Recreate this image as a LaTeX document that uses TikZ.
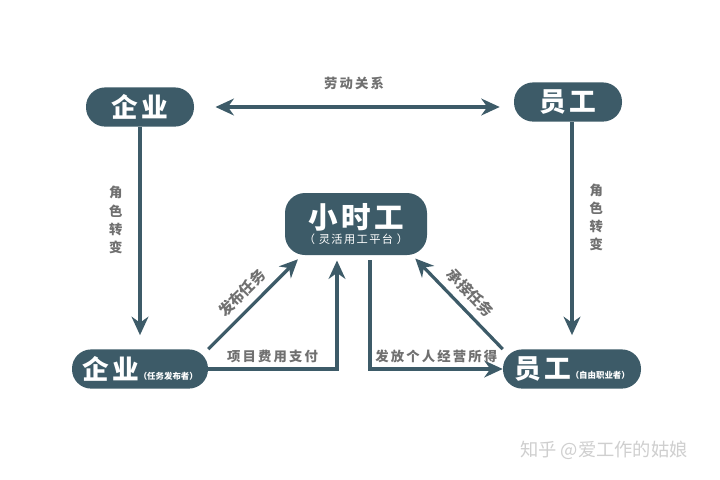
\documentclass[tikz,border=0pt]{standalone}
\usepackage{fontspec}
\setmainfont{Noto Sans CJK SC}
\newfontfamily\cjkwide{Noto Sans CJK SC}[LetterSpace=12]
\newfontfamily\cjklabel{Noto Sans CJK SC}[LetterSpace=16]
\usetikzlibrary{calc,positioning,arrows.meta}
\definecolor{figTeal}{HTML}{3D5B68}
\definecolor{figGray}{HTML}{707070}
\definecolor{figMark}{HTML}{CFCFCF}

\begin{document}
\begin{tikzpicture}[
  >={Stealth[length=4.6mm,width=4.2mm]},
  every node/.style={font=\small},
  rolebox/.style={rectangle, rounded corners=4.8mm, fill=figTeal, text=white,
    inner sep=2pt, minimum height=9.8mm, minimum width=#1},
  rolename/.style={font=\cjkwide\bfseries\fontsize{19}{19}\selectfont},
  platbox/.style={rectangle, rounded corners=5mm, fill=figTeal, text=white,
    inner sep=2pt, minimum height=15.5mm, minimum width=35.5mm, align=center},
  flow/.style={->, figTeal, line width=2.3pt},
  flowlabel/.style={font=\cjklabel\bfseries\fontsize{9.5}{13}\selectfont, figGray, inner sep=1pt},
  slopelabel/.style={font=\bfseries\fontsize{10.5}{13}\selectfont, figGray, inner sep=1pt},
]
\useasboundingbox[fill=white] (0,0) rectangle (18,-12);

% ======= Top row =======
\node[rolebox=27mm, rolename] (qytop) at (3.5, -2.675) {企业};
\node[rolebox=27mm, rolename] (ygtop) at (14.2, -2.55) {员工};

\draw[flow, <->, shorten <=5.3mm, shorten >=3.5mm] (qytop.east) -- (qytop.east -| ygtop.west)
  node[flowlabel, midway, above=3.5mm] {劳动关系};

% ======= Platform =======
\node[platbox] (xsg) at (8.9, -5.6)
  {{\cjkwide\bfseries\fontsize{21}{22}\selectfont 小时工}\\[-1pt]
   {\cjkwide\fontsize{8}{9}\selectfont （ 灵活用工平台 ）}};

% ======= Bottom row =======
\node[rolebox=34mm] (qybot) at (3.5, -9.225)
  {{\cjkwide\bfseries\fontsize{19}{19}\selectfont 企业}{\bfseries\fontsize{6}{6}\selectfont （任务发布者）}};
\node[rolebox=34.5mm] (ygbot) at (14.3, -9.225)
  {{\cjkwide\bfseries\fontsize{19}{19}\selectfont 员工}{\bfseries\fontsize{6}{6}\selectfont （自由职业者）}};

% Role change
\draw[flow, shorten >=3.5mm] (qytop.south) -- (qytop.south |- qybot.north)
  node[flowlabel, pos=0.42, left=4mm, align=center, inner sep=0pt] {角\\色\\转\\变};
\draw[flow, shorten >=3.5mm] (ygbot.north |- ygtop.south) -- (ygbot.north)
  node[flowlabel, pos=0.42, right=4mm, align=center, inner sep=0pt] {角\\色\\转\\变};

% Tasks
\draw[flow] (qybot.north east) -- ($(xsg.south west)+(0.33,-0.1)$)
  node[slopelabel, midway, sloped, above=4pt] {发布任务};
\draw[flow] (ygbot.north west) -- ($(xsg.south east)+(-0.3,-0.08)$)
  node[slopelabel, midway, sloped, above=4pt] {承接任务};

% Money
\draw[flow, shorten >=1.3mm] (qybot.east) -| ([xshift=-4.75mm]xsg.south)
  node[flowlabel, pos=0.25, above=2pt] {项目费用支付};
\draw[flow, shorten <=1.3mm] ([xshift=3.5mm]xsg.south) |- (ygbot.west)
  node[flowlabel, pos=0.75, above=2pt] {发放个人经营所得};

% Watermark
\node[font=\fontsize{13}{13}\selectfont, figMark] (mark) at (15.1, -11.25) {知乎 @爱工作的姑娘};

\end{tikzpicture}
\end{document}
